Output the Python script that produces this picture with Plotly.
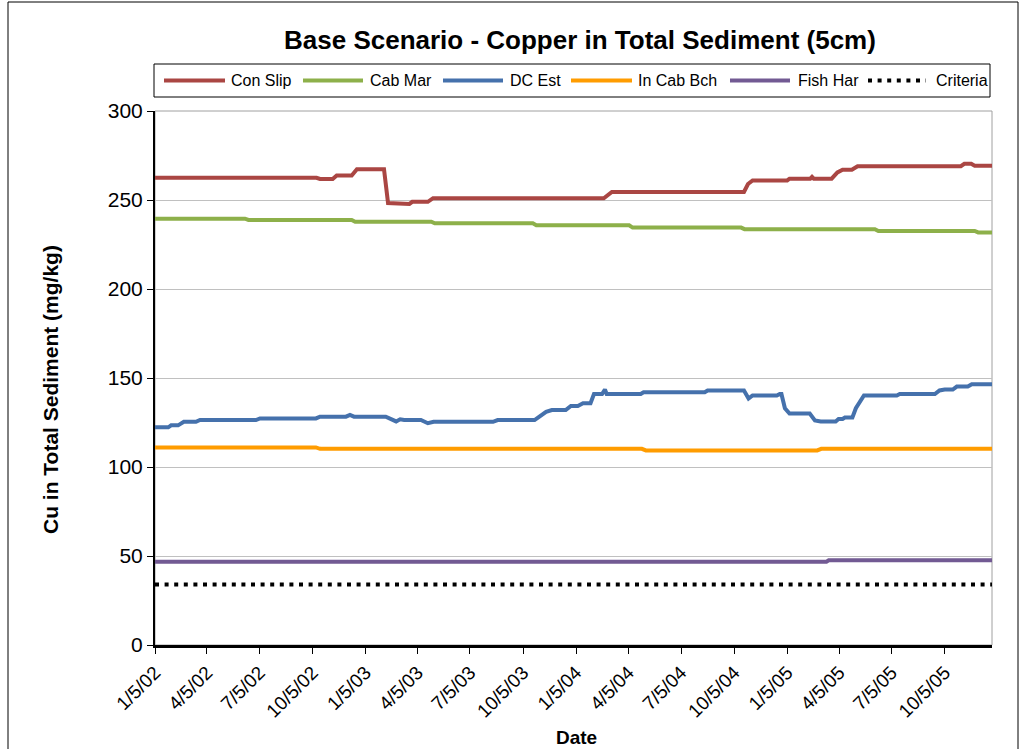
import plotly.graph_objects as go

# ---------------- data ----------------
tick_dates = ["2002-01-05", "2002-04-05", "2002-07-05", "2002-10-05",
              "2003-01-05", "2003-04-05", "2003-07-05", "2003-10-05",
              "2004-01-05", "2004-04-05", "2004-07-05", "2004-10-05",
              "2005-01-05", "2005-04-05", "2005-07-05", "2005-10-05"]
tick_labels = ["1/5/02", "4/5/02", "7/5/02", "10/5/02",
               "1/5/03", "4/5/03", "7/5/03", "10/5/03",
               "1/5/04", "4/5/04", "7/5/04", "10/5/04",
               "1/5/05", "4/5/05", "7/5/05", "10/5/05"]

con_slip_dates = ["2002-01-05", "2002-10-12", "2002-10-18", "2002-11-09", "2002-11-16",
                  "2002-12-12", "2002-12-21", "2003-02-06", "2003-02-13", "2003-02-27",
                  "2003-03-02", "2003-03-22", "2003-03-27", "2003-04-23", "2003-05-02",
                  "2004-02-22", "2004-03-07", "2004-10-22", "2004-10-29", "2004-11-06",
                  "2005-01-05", "2005-01-09", "2005-02-14", "2005-02-17", "2005-02-20",
                  "2005-03-23", "2005-04-02", "2005-04-11", "2005-04-27", "2005-05-07",
                  "2005-11-02", "2005-11-08", "2005-11-20", "2005-11-26", "2005-12-26"]
con_slip_vals = [262.5, 262.5, 261.8, 261.8, 263.8,
                 263.8, 267.3, 267.3, 248.3, 248.3,
                 247.8, 247.8, 249.0, 249.0, 251.0,
                 251.0, 254.5, 254.5, 259.0, 261.0,
                 261.0, 262.0, 262.0, 263.0, 262.0,
                 262.0, 265.5, 267.0, 267.0, 269.0,
                 269.0, 270.3, 270.3, 269.2, 269.2]

cab_mar_dates = ["2002-01-05", "2002-06-10", "2002-06-16", "2002-12-12", "2002-12-18",
                 "2003-04-29", "2003-05-05", "2003-10-22", "2003-10-28", "2004-04-06",
                 "2004-04-12", "2004-10-17", "2004-10-23", "2005-06-06", "2005-06-12",
                 "2005-11-26", "2005-12-02", "2005-12-26"]
cab_mar_vals = [239.5, 239.5, 238.8, 238.8, 237.8,
                237.8, 236.9, 236.9, 235.8, 235.8,
                234.5, 234.5, 233.6, 233.6, 232.6,
                232.6, 231.8, 231.8]

dc_est_dates = ["2002-01-05", "2002-01-28", "2002-02-02", "2002-02-14", "2002-02-24",
                "2002-03-17", "2002-03-24", "2002-06-29", "2002-07-06", "2002-10-11",
                "2002-10-18", "2002-12-02", "2002-12-09", "2002-12-16", "2003-02-09",
                "2003-02-20", "2003-02-27", "2003-03-06", "2003-03-13", "2003-04-11",
                "2003-04-23", "2003-05-03", "2003-08-14", "2003-08-22", "2003-10-25",
                "2003-11-03", "2003-11-14", "2003-11-24", "2003-12-18", "2003-12-27",
                "2004-01-08", "2004-01-17", "2004-01-30", "2004-02-05", "2004-02-19",
                "2004-02-24", "2004-02-27", "2004-04-26", "2004-05-01", "2004-08-15",
                "2004-08-20", "2004-10-22", "2004-10-30", "2004-11-06", "2004-12-18",
                "2004-12-23", "2004-12-26", "2005-01-01", "2005-01-09", "2005-02-13",
                "2005-02-22", "2005-03-04", "2005-03-30", "2005-04-04", "2005-04-11",
                "2005-04-15", "2005-04-28", "2005-05-04", "2005-05-18", "2005-07-14",
                "2005-07-19", "2005-09-18", "2005-09-26", "2005-10-05", "2005-10-19",
                "2005-10-26", "2005-11-14", "2005-11-21", "2005-12-26"]
dc_est_vals = [122.3, 122.3, 123.4, 123.4, 125.4,
               125.4, 126.4, 126.4, 127.3, 127.3,
               128.3, 128.3, 129.3, 128.3, 128.3,
               126.8, 125.6, 126.8, 126.4, 126.4,
               124.6, 125.4, 125.4, 126.4, 126.4,
               128.5, 131.0, 132.0, 132.0, 134.3,
               134.3, 135.8, 135.8, 141.0, 141.0,
               143.5, 141.0, 141.0, 142.0, 142.0,
               143.0, 143.0, 138.5, 140.2, 140.2,
               141.0, 141.0, 133.0, 130.0, 130.0,
               126.2, 125.6, 125.6, 127.0, 127.0,
               127.8, 127.8, 133.0, 140.2, 140.2,
               141.0, 141.0, 143.0, 143.5, 143.5,
               145.2, 145.2, 146.5, 146.5]

in_cab_bch_dates = ["2002-01-05", "2002-10-11", "2002-10-18", "2004-04-28",
                    "2004-05-05", "2005-02-26", "2005-03-05", "2005-12-26"]
in_cab_bch_vals = [111.0, 111.0, 110.2, 110.2, 109.3, 109.3, 110.2, 110.2]

fish_har_dates = ["2002-01-05", "2005-03-14", "2005-03-18", "2005-12-26"]
fish_har_vals = [46.8, 46.8, 47.6, 47.6]

criteria_dates = ["2002-01-05", "2005-12-26"]
criteria_vals = [34, 34]

series_names = ["Con Slip", "Cab Mar", "DC Est", "In Cab Bch", "Fish Har", "Criteria"]
series_colors = ["#AA4643", "#8DB04A", "#4571AC", "#FF9C00", "#725A93", "#000000"]

# ---------------- figure ----------------
W, H = 1026, 749
PL, PR, PT, PB = 155, 992, 111, 645


def px(x):
    return (x - PL) / (PR - PL)


def py(y):
    return (PB - y) / (PB - PT)


FONT = "Arial, Liberation Sans, sans-serif"

fig = go.Figure()
data = [(con_slip_dates, con_slip_vals), (cab_mar_dates, cab_mar_vals),
        (dc_est_dates, dc_est_vals), (in_cab_bch_dates, in_cab_bch_vals),
        (fish_har_dates, fish_har_vals)]
for (d, v), name, col in zip(data, series_names[:5], series_colors[:5]):
    fig.add_trace(go.Scatter(x=d, y=v, name=name, mode="lines",
                             line=dict(color=col, width=4), showlegend=False))
fig.add_trace(go.Scatter(x=criteria_dates, y=criteria_vals, name="Criteria", mode="lines",
                         line=dict(color="#000000", width=4, dash="4px,5.6px"),
                         showlegend=False))

shapes = []
annotations = []

# outer chart frame
shapes.append(dict(type="rect", xref="paper", yref="paper",
                   x0=px(8), x1=px(1018), y0=py(760), y1=py(2),
                   line=dict(color="#000000", width=1), layer="below"))
# plot-area border (grey)
shapes.append(dict(type="rect", xref="paper", yref="paper",
                   x0=0, x1=1, y0=0, y1=1,
                   line=dict(color="#A0A0A0", width=1), layer="below"))

# legend box
shapes.append(dict(type="rect", xref="paper", yref="paper",
                   x0=px(154), x1=px(990), y0=py(97), y1=py(64),
                   line=dict(color="#000000", width=1)))
leg_line_x = [(164, 225), (303, 363), (443, 503), (571, 632), (730, 790), (868, 926)]
leg_text_x = [229, 368, 508, 636, 796, 934]
LY = 80.5
for i, (name, col) in enumerate(zip(series_names, series_colors)):
    x0, x1 = leg_line_x[i]
    if name == "Criteria":
        shapes.append(dict(type="line", xref="paper", yref="paper",
                           x0=px(x0), x1=px(x1), y0=py(LY), y1=py(LY),
                           line=dict(color=col, width=4, dash="4px,5.6px")))
    else:
        shapes.append(dict(type="line", xref="paper", yref="paper",
                           x0=px(x0), x1=px(x1), y0=py(LY), y1=py(LY),
                           line=dict(color=col, width=4)))
    annotations.append(dict(text=name, xref="paper", yref="paper",
                            x=px(leg_text_x[i]), y=py(LY), xanchor="left", yanchor="middle",
                            showarrow=False, font=dict(family=FONT, size=16, color="#000000")))

# title
annotations.append(dict(text="<b>Base Scenario - Copper in Total Sediment (5cm)</b>",
                        xref="paper", yref="paper", x=px(580), y=py(40),
                        xanchor="center", yanchor="middle", showarrow=False,
                        font=dict(family=FONT, size=26, color="#000000")))
# axis titles
annotations.append(dict(text="<b>Cu in Total Sediment (mg/kg)</b>",
                        xref="paper", yref="paper", x=px(50), y=py(390),
                        xanchor="center", yanchor="middle", textangle=-90, showarrow=False,
                        font=dict(family=FONT, size=21, color="#000000")))
annotations.append(dict(text="<b>Date</b>",
                        xref="paper", yref="paper", x=px(576), y=py(737),
                        xanchor="center", yanchor="middle", showarrow=False,
                        font=dict(family=FONT, size=19, color="#000000")))

fig.update_layout(
    width=W, height=H,
    margin=dict(l=PL, r=W - PR, t=PT, b=H - PB, pad=0),
    paper_bgcolor="#FFFFFF", plot_bgcolor="#FFFFFF",
    shapes=shapes, annotations=annotations,
    font=dict(family=FONT, color="#000000"),
)
fig.update_xaxes(
    type="date", range=["2002-01-05", "2005-12-26"],
    tickmode="array", tickvals=tick_dates, ticktext=tick_labels,
    tickangle=-45, tickfont=dict(family=FONT, size=19, color="#000000"),
    ticks="outside", ticklen=6, tickwidth=1, tickcolor="#000000",
    showline=True, linecolor="#000000", linewidth=3,
    showgrid=False, zeroline=False,
)
fig.update_yaxes(
    range=[0, 300], tickmode="linear", tick0=0, dtick=50,
    tickfont=dict(family=FONT, size=21, color="#000000"),
    ticks="outside", ticklen=6, tickwidth=1, tickcolor="#000000",
    showline=True, linecolor="#000000", linewidth=2,
    showgrid=True, gridcolor="#C0C0C0", gridwidth=1, zeroline=False,
)

fig.write_html("out.html", config={"displayModeBar": False},
               post_script="document.body.style.margin='0';")
